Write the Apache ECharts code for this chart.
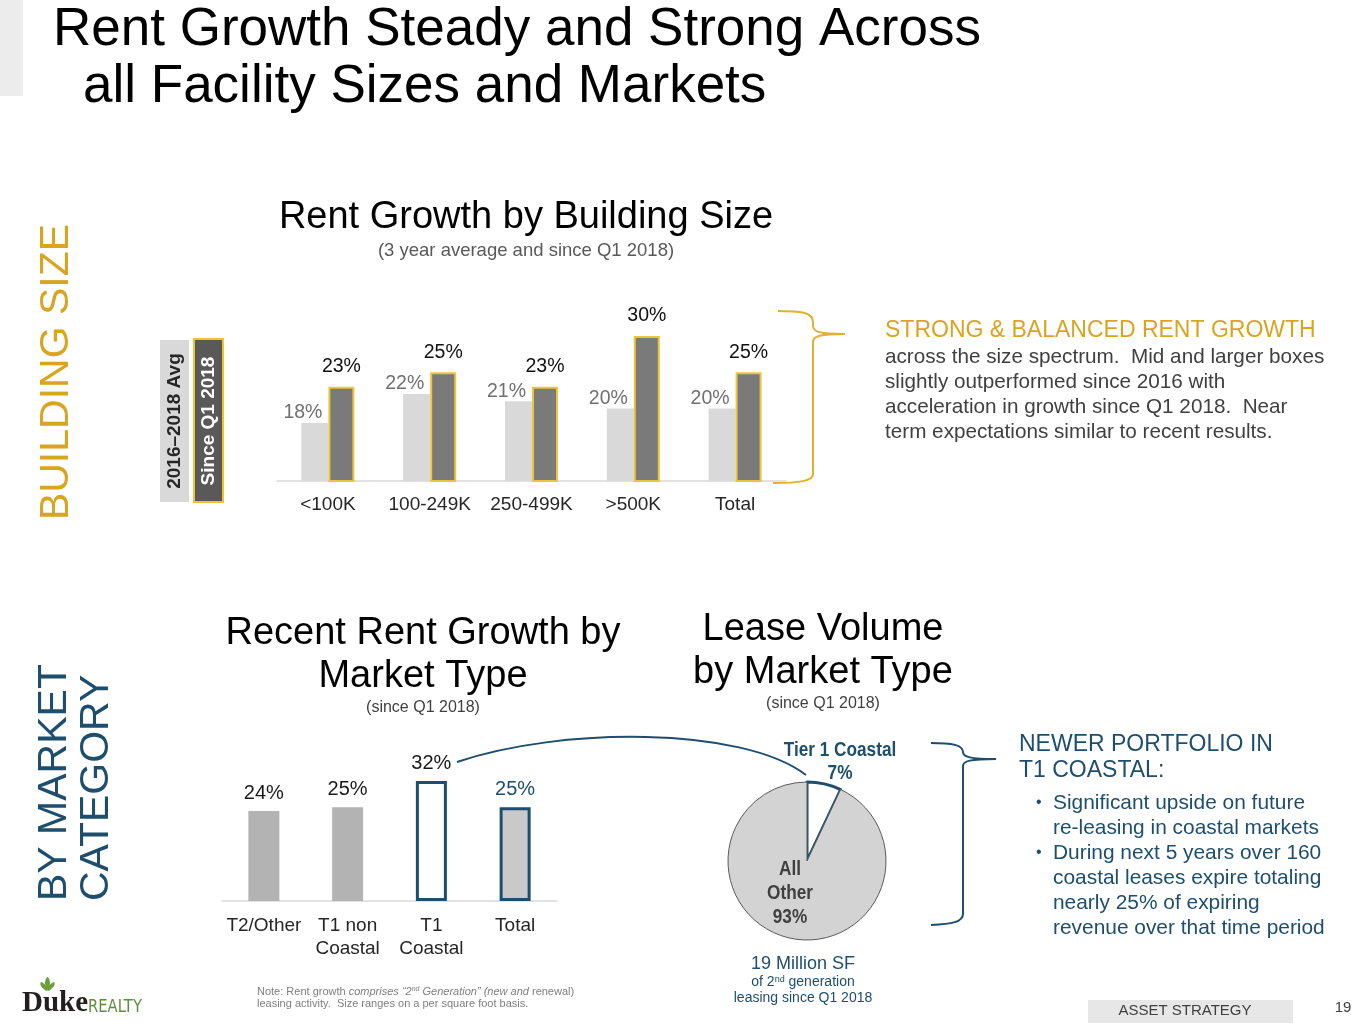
<!DOCTYPE html>
<html><head><meta charset="utf-8">
<script src="https://cdn.jsdelivr.net/npm/echarts@6/dist/echarts.min.js"></script>
<style>html,body{margin:0;padding:0;background:#fff}#c{width:1365px;height:1024px}</style>
</head><body><div id="c"></div>
<script>
// ---- data ----
const sizeCategories = ['<100K', '100-249K', '250-499K', '>500K', 'Total'];
const avg2016to2018 = [18, 22, 21, 20, 20];
const sinceQ1of2018 = [23, 25, 23, 30, 25];
const marketCategories = ['T2/Other', 'T1 non\nCoastal', 'T1\nCoastal', 'Total'];
const marketGrowth = [24, 25, 32, 25];
const pieNames = ['Tier 1 Coastal', 'All Other'];
const pieValues = [7, 93];

// ---- styles ----
const F = '"Liberation Sans", Arial, sans-serif';
const GOLD = '#d9a521';
const TEAL = '#1d4e6d';
const marketFill = ['#b3b3b3', '#b3b3b3', '#ffffff', '#c9c9c9'];
const marketBorder = [null, null, TEAL, TEAL];
const marketLabelColor = ['#1a1a1a', '#1a1a1a', '#1a1a1a', TEAL];

const chart = echarts.init(document.getElementById('c'), null, {renderer: 'canvas'});

function txt(x, y, text, font, fill, align, vAlign, extra, lh) {
  const st = {text: text, font: font, fill: fill, textAlign: align || 'left', textVerticalAlign: vAlign || 'middle'};
  if (lh) st.lineHeight = lh;
  return Object.assign({type: 'text', x: x, y: y, silent: true, z: 100, style: st}, extra || {});
}
function bz(x1, y1, c1x, c1y, c2x, c2y, x2, y2, color) {
  return {type: 'bezierCurve', silent: true, z: 100, shape: {x1: x1, y1: y1, cpx1: c1x, cpy1: c1y, cpx2: c2x, cpy2: c2y, x2: x2, y2: y2},
    style: {fill: null, stroke: color, lineWidth: 2}};
}
function ln(x1, y1, x2, y2, color) {
  return {type: 'line', silent: true, z: 100, shape: {x1: x1, y1: y1, x2: x2, y2: y2}, style: {stroke: color, lineWidth: 2}};
}
const BGOLD = '#e3b02f';

const graphics = [
  {type: 'rect', shape: {x: 0, y: 0, width: 23, height: 96}, style: {fill: '#ececec'}, silent: true},
  txt(53, 30, 'Rent Growth Steady and Strong Across', '53px ' + F, '#000'),
  txt(83, 87, 'all Facility Sizes and Markets', '53px ' + F, '#000'),
  txt(57, 372, 'BUILDING SIZE', '41px ' + F, GOLD, 'center', 'middle', {rotation: Math.PI / 2}),
  txt(55, 901, 'BY MARKET', '41px ' + F, TEAL, 'left', 'middle', {rotation: Math.PI / 2}),
  txt(97, 901, 'CATEGORY', '41px ' + F, TEAL, 'left', 'middle', {rotation: Math.PI / 2}),

  // chart 1 titles
  txt(526, 218, 'Rent Growth by Building Size', '38px ' + F, '#000', 'center'),
  txt(526, 251, '(3 year average and since Q1 2018)', '18.5px ' + F, '#595959', 'center'),
  // legend boxes
  {type: 'rect', shape: {x: 160, y: 340, width: 29, height: 162}, style: {fill: '#d9d9d9'}, silent: true},
  {type: 'rect', shape: {x: 194, y: 339, width: 29, height: 163}, style: {fill: '#595959', stroke: '#f2c22c', lineWidth: 2}, silent: true},
  txt(175, 421, '2016\u20132018 Avg', 'bold 19px ' + F, '#262626', 'center', 'middle', {rotation: Math.PI / 2}),
  txt(209, 421, 'Since Q1 2018', 'bold 19px ' + F, '#ffffff', 'center', 'middle', {rotation: Math.PI / 2}),
  // gold bracket
  bz(778, 311, 800, 311, 813, 312, 813, 322, BGOLD),
  ln(813, 322, 813, 326, BGOLD),
  bz(813, 326, 813, 332, 820, 334, 845, 334, BGOLD),
  bz(845, 334, 820, 334, 813, 336, 813, 342, BGOLD),
  ln(813, 342, 813, 474, BGOLD),
  bz(813, 474, 813, 481, 800, 483, 773, 483, BGOLD),
  txt(885, 331, 'STRONG & BALANCED RENT GROWTH', '23px ' + F, GOLD),
  txt(885, 345, 'across the size spectrum.  Mid and larger boxes\nslightly outperformed since 2016 with\nacceleration in growth since Q1 2018.  Near\nterm expectations similar to recent results.', '20.7px ' + F, '#404040', 'left', 'top', null, 25),

  // chart 2 titles
  txt(423, 634, 'Recent Rent Growth by', '38px ' + F, '#000', 'center'),
  txt(423, 677, 'Market Type', '38px ' + F, '#000', 'center'),
  txt(423, 708, '(since Q1 2018)', '16px ' + F, '#404040', 'center'),
  txt(823, 630, 'Lease Volume', '38px ' + F, '#000', 'center'),
  txt(823, 673, 'by Market Type', '38px ' + F, '#000', 'center'),
  txt(823, 704, '(since Q1 2018)', '16px ' + F, '#404040', 'center'),
  // connector curve
  bz(457, 762, 560, 727, 742, 726, 806, 775, TEAL),
  // pie labels
  txt(840, 750, pieNames[0], 'bold 20px ' + F, TEAL, 'center', 'middle', {scaleX: 0.86}),
  txt(840, 773, pieValues[0] + '%', 'bold 20px ' + F, TEAL, 'center', 'middle', {scaleX: 0.86}),
  txt(790, 893, pieNames[1].replace(' ', '\n') + '\n' + pieValues[1] + '%', 'bold 20px ' + F, '#404040', 'center', 'middle', {scaleX: 0.86}, 24),
  txt(803, 964, '19 Million SF', '18px ' + F, TEAL, 'center'),
  {type: 'text', x: 803, y: 982, silent: true, z: 100, style: {text: '{a|of 2}{s|nd}{a| generation}', textAlign: 'center', textVerticalAlign: 'middle',
    rich: {a: {fontSize: 14, fontFamily: F, fill: TEAL}, s: {fontSize: 9, fontFamily: F, fill: TEAL, verticalAlign: 'top'}}}},
  txt(803, 998, 'leasing since Q1 2018', '14px ' + F, TEAL, 'center'),
  // teal bracket
  bz(931, 743, 952, 743, 963, 745, 963, 752, TEAL),
  bz(963, 752, 963, 757, 970, 759, 996, 759, TEAL),
  bz(996, 759, 970, 759, 963, 761, 963, 766, TEAL),
  ln(963, 766, 963, 914, TEAL),
  bz(963, 914, 963, 922, 952, 924, 931, 925, TEAL),
  txt(1019, 745, 'NEWER PORTFOLIO IN', '23px ' + F, TEAL),
  txt(1019, 771, 'T1 COASTAL:', '23px ' + F, TEAL),
  txt(1036, 803, '\u2022', '16px ' + F, TEAL),
  txt(1036, 853, '\u2022', '16px ' + F, TEAL),
  txt(1053, 791, 'Significant upside on future\nre-leasing in coastal markets\nDuring next 5 years over 160\ncoastal leases expire totaling\nnearly 25% of expiring\nrevenue over that time period', '20.9px ' + F, TEAL, 'left', 'top', null, 25),

  // footer
  {type: 'text', x: 257, y: 986, silent: true, z: 100, style: {text: '{n|Note: Rent growth }{i|comprises \u201c2}{si|nd}{i| Generation\u201d (new and }{n|renewal)}\n{n|leasing activity.  Size ranges on a per square foot basis.}',
    textAlign: 'left', textVerticalAlign: 'top',
    rich: {n: {fontSize: 11, fontFamily: F, fill: '#7f7f7f', lineHeight: 12}, i: {fontSize: 11, fontFamily: F, fontStyle: 'italic', fill: '#7f7f7f', lineHeight: 12},
      si: {fontSize: 7, fontFamily: F, fontStyle: 'italic', fill: '#7f7f7f', verticalAlign: 'top', lineHeight: 12}}}},
  txt(22, 1004, 'Duke', 'bold 29px "Liberation Serif", serif', '#231f20'),
  txt(88, 1007, 'REALTY', '18px "DejaVu Sans", sans-serif', '#5d8f3b', 'left', 'middle', {scaleX: 0.82}),
  {type: 'polygon', silent: true, z: 100, shape: {points: [[47, 991], [41, 986], [41, 982], [47, 987]], smooth: 0.4}, style: {fill: '#6aa13a'}},
  {type: 'polygon', silent: true, z: 100, shape: {points: [[48, 991], [54, 986], [54, 982], [48, 987]], smooth: 0.4}, style: {fill: '#6aa13a'}},
  {type: 'polygon', silent: true, z: 100, shape: {points: [[47.5, 989], [45, 983], [47.5, 977], [50, 983]], smooth: 0.4}, style: {fill: '#6aa13a'}},
  {type: 'rect', shape: {x: 1088, y: 1000, width: 205, height: 23}, style: {fill: '#e7e7e7'}, silent: true},
  txt(1185, 1011, 'ASSET STRATEGY', '15px ' + F, '#404040', 'center'),
  txt(1343, 1008, '19', '15px ' + F, '#404040', 'center')
];

const option = {
  animation: false,
  backgroundColor: '#ffffff',
  grid: [
    {left: 277, right: 579, top: 336, bottom: 543},
    {left: 222, right: 808, top: 781, bottom: 123}
  ],
  xAxis: [
    {type: 'category', gridIndex: 0, data: sizeCategories, axisTick: {show: false},
      axisLine: {lineStyle: {color: '#d9d9d9', width: 1.5}},
      axisLabel: {fontSize: 19, fontFamily: F, color: '#262626', margin: 14, interval: 0}},
    {type: 'category', gridIndex: 1, data: marketCategories, axisTick: {show: false},
      axisLine: {lineStyle: {color: '#d9d9d9', width: 1.5}},
      axisLabel: {fontSize: 19, fontFamily: F, color: '#262626', margin: 13, lineHeight: 23, interval: 0}}
  ],
  yAxis: [
    {type: 'value', gridIndex: 0, min: 10, max: 30, show: false, splitLine: {show: false}},
    {type: 'value', gridIndex: 1, min: 0, max: 32, show: false, splitLine: {show: false}}
  ],
  series: [
    {name: '2016\u20132018 Avg', type: 'bar', xAxisIndex: 0, yAxisIndex: 0, data: avg2016to2018,
      barWidth: 27, barGap: '0%', silent: true,
      itemStyle: {color: '#d9d9d9'},
      label: {show: true, position: 'top', formatter: '{c}%', fontSize: 19.5, fontFamily: F, color: '#707070', offset: [-12, 5]}},
    {name: 'Since Q1 2018', type: 'bar', xAxisIndex: 0, yAxisIndex: 0, data: sinceQ1of2018,
      barWidth: 26, barGap: '0%', silent: true, z: 3,
      itemStyle: {color: '#7a7a7a', borderColor: '#eec53a', borderWidth: 2},
      label: {show: true, position: 'top', formatter: '{c}%', fontSize: 19.5, fontFamily: F, color: '#111', offset: [0, -5]}},
    {name: 'Market', type: 'bar', xAxisIndex: 1, yAxisIndex: 1, barWidth: 31, silent: true,
      data: marketGrowth.map((v, i) => ({value: v,
        itemStyle: {color: marketFill[i], borderColor: marketBorder[i] || marketFill[i], borderWidth: marketBorder[i] ? 3 : 0},
        label: {color: marketLabelColor[i]}})),
      label: {show: true, position: 'top', formatter: '{c}%', fontSize: 20, fontFamily: F, offset: [0, -3]}},
    {name: 'Lease Volume', type: 'pie', center: [807, 861], radius: 79, startAngle: 90, clockwise: true, silent: true,
      label: {show: false}, labelLine: {show: false},
      data: pieValues.map((v, i) => ({name: pieNames[i], value: v,
        itemStyle: i === 0 ? {color: '#ffffff', borderColor: TEAL, borderWidth: 3} : {color: '#d3d3d3', borderColor: '#5a5a5a', borderWidth: 1}}))}
  ],
  graphic: {elements: graphics}
};
chart.setOption(option);
</script>
</body></html>
